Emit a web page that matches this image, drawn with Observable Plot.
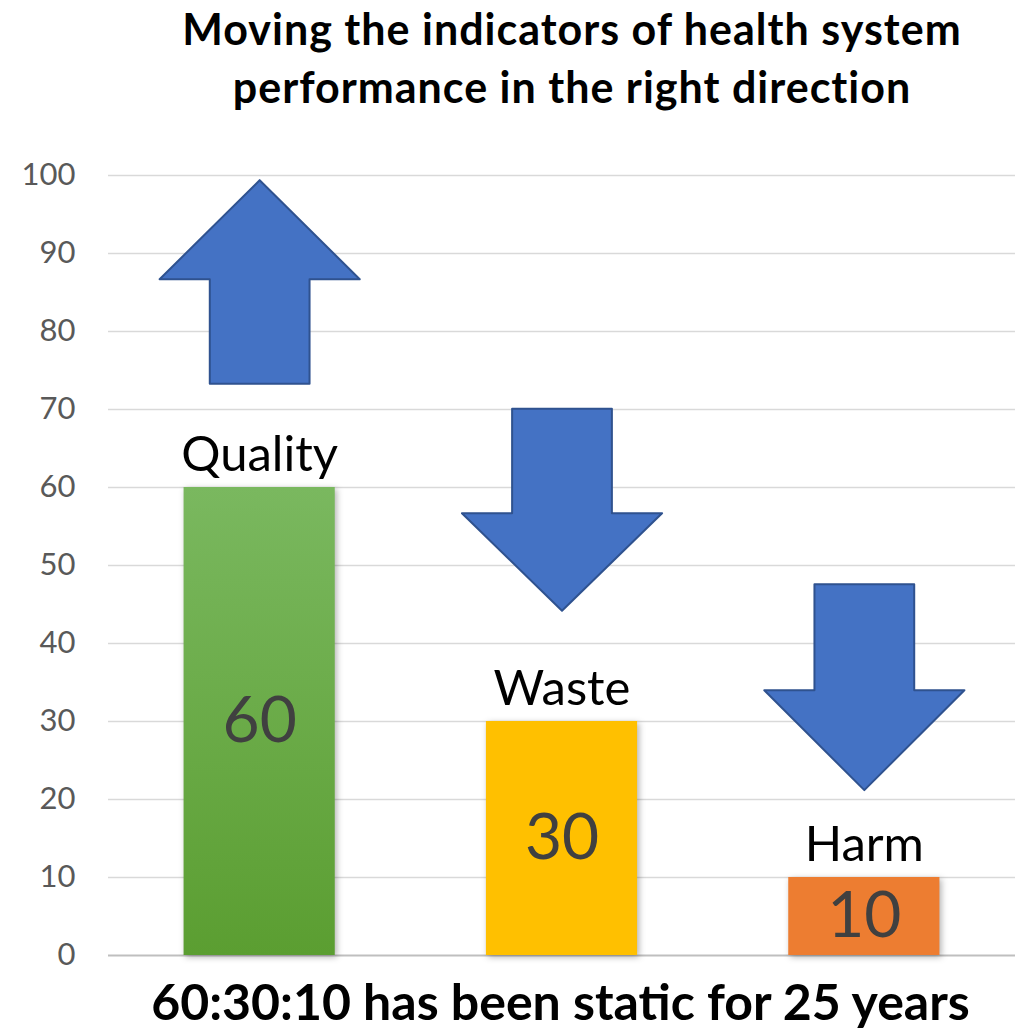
<!DOCTYPE html>
<html>
<head>
<meta charset="utf-8">
<script src="https://cdn.jsdelivr.net/npm/d3@7"></script>
<script src="https://cdn.jsdelivr.net/npm/@observablehq/plot@0.6"></script>
<style>
  body { margin: 0; background: #fff; font-family: Lato, sans-serif; }
  #title { box-sizing: border-box; width: 1025px; padding-left: 119px; padding-top: 0px; height: 130px;
    text-align: center; font-weight: 700; font-size: 43px; letter-spacing: 1px; line-height: 58px; color: #000; }
  #caption { box-sizing: border-box; width: 1025px; padding-left: 96px; margin-top: -4px; text-align: center;
    font-weight: 700; font-size: 50px; line-height: 60px; color: #000; }
</style>
</head>
<body>
<div id="title">Moving the indicators of health system<br>performance in the right direction</div>
<div id="chart"></div>
<div id="caption">60:30:10 has been static for 25 years</div>
<script>
const categories = ["Quality", "Waste", "Harm"];
const values = [60, 30, 10];
const barColors = ["url(#qualityGrad)", "#ffc000", "#ed7d31"];
const arrowTail = [73.3, 70.1, 47.6];
const arrowBase = [86.7, 56.7, 34.0];
const arrowTip = [99.4, 44.2, 21.2];
const yTicks = [0, 10, 20, 30, 40, 50, 60, 70, 80, 90, 100];

const bars = categories.map((c, i) => ({category: c, value: values[i], center: i + 0.5, color: barColors[i]}));
const barHalf = 0.25, headHalf = 0.331, shaftHalf = 0.165;
const arrowPts = [];
categories.forEach((c, i) => {
  const cx = i + 0.5;
  const pts = [
    [cx - shaftHalf, arrowTail[i]], [cx - shaftHalf, arrowBase[i]], [cx - headHalf, arrowBase[i]],
    [cx, arrowTip[i]], [cx + headHalf, arrowBase[i]], [cx + shaftHalf, arrowBase[i]], [cx + shaftHalf, arrowTail[i]]
  ];
  pts.forEach(([x, y]) => arrowPts.push({id: c, x, y}));
});

const plot = Plot.plot({
  width: 1025,
  height: 845,
  marginTop: 45,
  marginBottom: 20,
  marginLeft: 108,
  marginRight: 10,
  x: {domain: [0, 3], axis: null},
  y: {domain: [0, 100], ticks: yTicks},
  style: {fontFamily: "Lato, sans-serif"},
  marks: [
    Plot.gridY(yTicks.filter(d => d > 0), {stroke: "#d9d9d9", strokeOpacity: 1, strokeWidth: 1.5}),
    Plot.ruleY([0], {stroke: "#bfbfbf", strokeWidth: 2}),
    Plot.axisY({ticks: yTicks, tickSize: 0, tickPadding: 33, label: null, fontSize: 31, fill: "#595959"}),
    Plot.rectY(bars, {x1: d => d.center - barHalf, x2: d => d.center + barHalf, y1: 0, y2: "value", fill: "color"}),
    Plot.line(arrowPts, {x: "x", y: "y", z: "id", fill: "#4472c4", stroke: "#2f528f", strokeWidth: 2, curve: "linear-closed"}),
    Plot.text(bars, {x: "center", y: "value", text: "category", dy: -32, fontSize: 49, fill: "#000"}),
    Plot.text(bars, {x: "center", y: d => d.value / 2, text: d => String(d.value), fontSize: 64, fill: "#404040"})
  ]
});

// gradient for the Quality bar
const svg = d3.select(plot);
const defs = svg.insert("defs", ":first-child");
const grad = defs.append("linearGradient").attr("id", "qualityGrad").attr("x1", 0).attr("y1", 0).attr("x2", 0).attr("y2", 1);
grad.append("stop").attr("offset", "0%").attr("stop-color", "#7ab85f");
grad.append("stop").attr("offset", "100%").attr("stop-color", "#5b9e31");
svg.selectAll("g[aria-label=rect]").style("filter", "drop-shadow(2px 2px 3px rgba(0,0,0,0.3))");

document.getElementById("chart").appendChild(plot);
</script>
</body>
</html>
